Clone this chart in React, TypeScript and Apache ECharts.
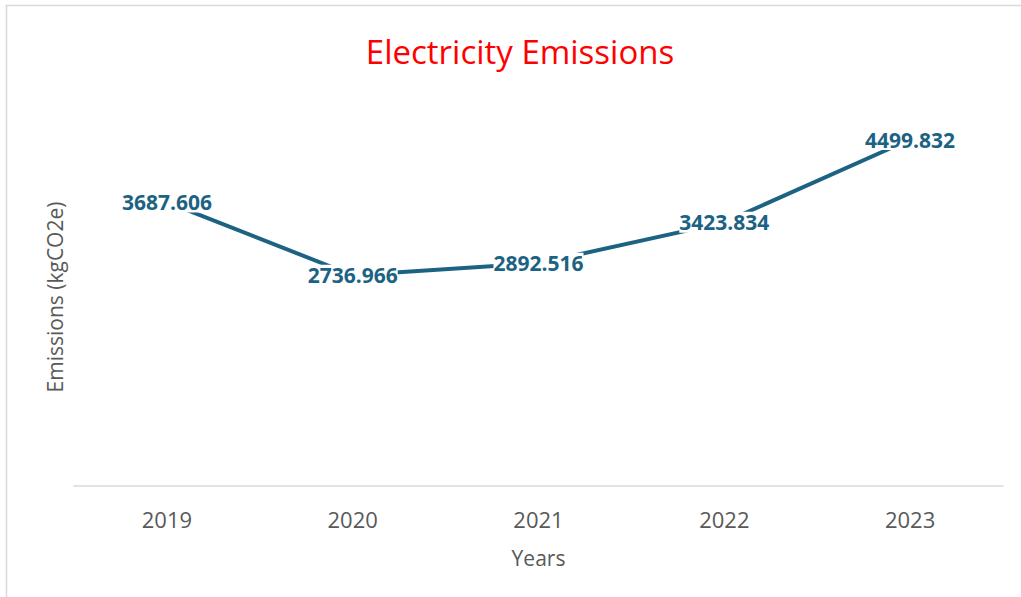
import React, { useEffect, useRef } from "react";
import * as echarts from "echarts";

const years = ["2019", "2020", "2021", "2022", "2023"];
const emissions = [3687.606, 2736.966, 2892.516, 3423.834, 4499.832];
const chartTitle = "Electricity Emissions";
const xTitle = "Years";
const yTitle = "Emissions (kgCO2e)";

const LINE = "#1C6283";
const GREY = "#595959";
const FONT = "'Open Sans', sans-serif";

export default function App() {
  const ref = useRef<HTMLDivElement>(null);
  useEffect(() => {
    if (!ref.current) return;
    const chart = echarts.init(ref.current, undefined, { renderer: "svg" });
    chart.setOption({
      animation: false,
      backgroundColor: "#ffffff",
      graphic: [
        {
          type: "rect",
          shape: { x: 6.5, y: 5.5, width: 1040, height: 620 },
          style: { fill: "none", stroke: "#d9d9d9", lineWidth: 1.5 },
          silent: true,
        },
        {
          type: "text",
          x: 520,
          y: 51,
          style: {
            text: chartTitle,
            fill: "#ff0000",
            font: `33px ${FONT}`,
            align: "center",
            verticalAlign: "middle",
          },
        },
        {
          type: "text",
          x: 55,
          y: 297,
          rotation: Math.PI / 2,
          style: {
            text: yTitle,
            fill: GREY,
            font: `21px ${FONT}`,
            align: "center",
            verticalAlign: "middle",
          },
        },
      ],
      grid: { left: 74, right: 18, top: 101, bottom: 111, containLabel: false },
      xAxis: {
        type: "category",
        data: years,
        boundaryGap: true,
        axisLine: { show: true, lineStyle: { color: "#d9d9d9", width: 1.5 } },
        axisTick: { show: false },
        axisLabel: { color: GREY, fontSize: 22, fontFamily: FONT, margin: 22 },
        name: xTitle,
        nameLocation: "middle",
        nameGap: 61,
        nameTextStyle: { color: GREY, fontSize: 21, fontFamily: FONT },
      },
      yAxis: {
        type: "value",
        min: 0,
        max: 5000,
        interval: 1000,
        axisLine: { show: false },
        axisTick: { show: false },
        axisLabel: { show: false },
        splitLine: { show: false },
      },
      series: [
        {
          type: "line",
          data: emissions,
          symbol: "circle",
          symbolSize: 2,
          showSymbol: true,
          showAllSymbol: true,
          lineStyle: { color: LINE, width: 4 },
          itemStyle: { color: LINE },
          label: {
            show: true,
            position: "inside",
            offset: [0, 2],
            formatter: "{c}",
            color: LINE,
            fontSize: 21,
            fontWeight: "bold",
            fontFamily: FONT,
            backgroundColor: "#ffffff",
            padding: [0, 0],
          },
          labelLayout: { hideOverlap: false },
        },
      ],
    });
    return () => chart.dispose();
  }, []);
  return (
    <div
      ref={ref}
      style={{ position: "absolute", left: 0, top: 0, width: 1021, height: 597 }}
    />
  );
}
